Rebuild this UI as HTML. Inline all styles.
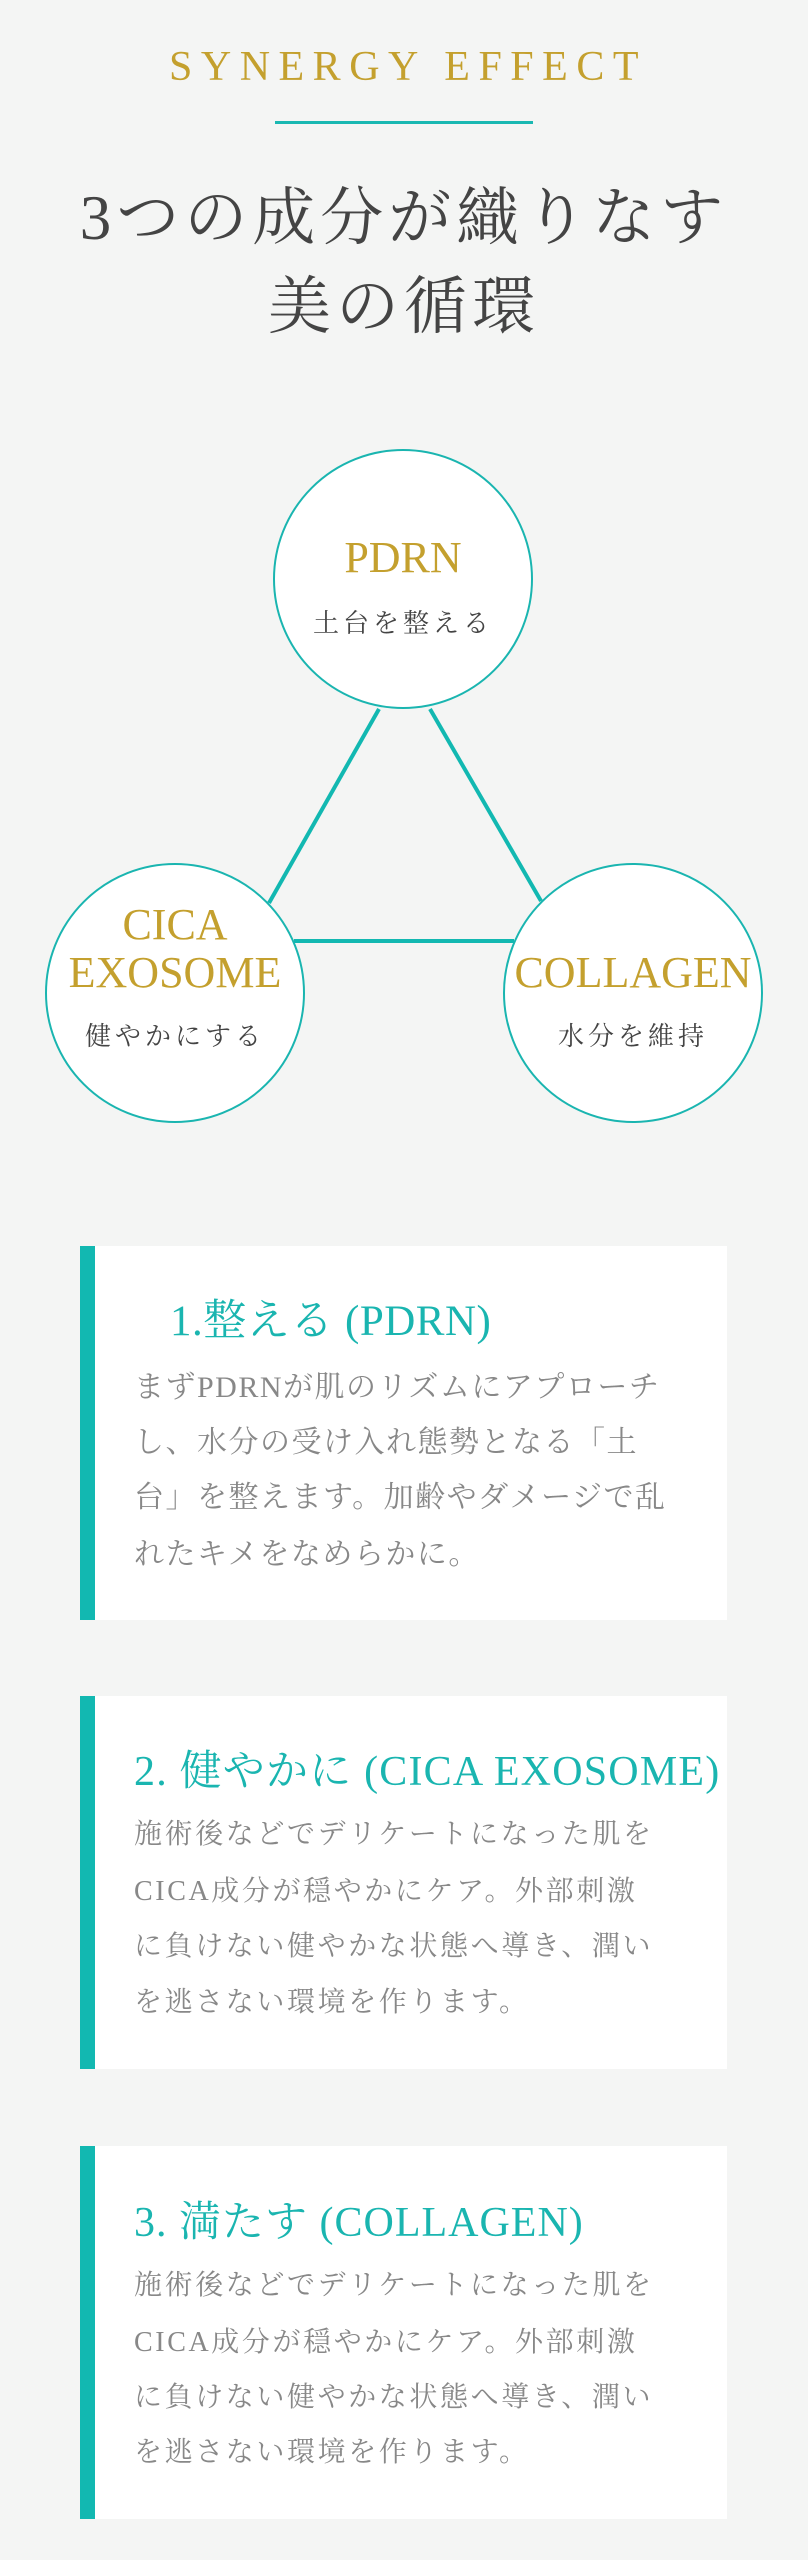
<!DOCTYPE html>
<html><head><meta charset="utf-8"><style>
*{margin:0;padding:0;box-sizing:border-box}
body{width:808px;height:2560px;background:#f4f5f4;position:relative;overflow:hidden;font-family:"Liberation Serif","Noto Serif CJK SC",serif}
.a{position:absolute;white-space:nowrap}
.c{left:0;width:808px;text-align:center}
.card{position:absolute;left:80px;width:647px;background:#fff;border-left:15px solid #12b8b1}
.t{color:#1ab5b0;font-size:42px;letter-spacing:1px;line-height:50px}
.b{color:#888;font-size:28px;letter-spacing:2.6px;line-height:40px;left:134px}
.circ{position:absolute;width:260px;height:260px;border:2px solid #1ab5b0;border-radius:50%;background:#fff}
.g{color:#c4a02e;font-size:44px;line-height:48px}
.s{color:#444;font-size:26px;letter-spacing:4px;line-height:36px}
</style></head><body>
<div class="a c" style="top:42px;font-size:42px;letter-spacing:8.5px;color:#c4a02e;line-height:50px;padding-left:8px">SYNERGY EFFECT</div>
<div class="a" style="left:275px;top:121px;width:258px;height:3px;background:#1ab8b2"></div>
<div class="a c" style="top:180px;font-size:63px;letter-spacing:5px;color:#444;line-height:76px">3つの成分が織りなす</div>
<div class="a c" style="top:269px;font-size:63px;letter-spacing:5px;color:#444;line-height:76px">美の循環</div>

<svg class="a" style="left:0;top:0" width="808" height="1200">
<line x1="379" y1="709" x2="269" y2="903" stroke="#12b8b1" stroke-width="4"/>
<line x1="430" y1="709" x2="541" y2="901" stroke="#12b8b1" stroke-width="4"/>
<line x1="294" y1="941" x2="514" y2="941" stroke="#12b8b1" stroke-width="4"/>
</svg>
<div class="circ" style="left:273px;top:449px"></div>
<div class="circ" style="left:45px;top:863px"></div>
<div class="circ" style="left:503px;top:863px"></div>
<div class="a g" style="left:273px;width:260px;text-align:center;top:534px">PDRN</div>
<div class="a s" style="left:273px;width:260px;text-align:center;top:606px">土台を整える</div>
<div class="a g" style="left:45px;width:260px;text-align:center;top:901px">CICA</div>
<div class="a g" style="left:45px;width:260px;text-align:center;top:949px">EXOSOME</div>
<div class="a s" style="left:45px;width:260px;text-align:center;top:1019px">健やかにする</div>
<div class="a g" style="left:503px;width:260px;text-align:center;top:949px">COLLAGEN</div>
<div class="a s" style="left:503px;width:260px;text-align:center;top:1019px">水分を維持</div>

<div class="card" style="top:1246px;height:374px"></div>
<div class="a t" style="left:170px;top:1297px;font-size:43px;letter-spacing:0.5px">1.整える (PDRN)</div>
<div class="a b" style="top:1368px;letter-spacing:1.5px;font-size:30px">まずPDRNが肌のリズムにアプローチ</div>
<div class="a b" style="top:1423px;letter-spacing:1.5px;font-size:30px">し、水分の受け入れ態勢となる「土</div>
<div class="a b" style="top:1478px;letter-spacing:1.5px;font-size:30px">台」を整えます。加齢やダメージで乱</div>
<div class="a b" style="top:1535px;letter-spacing:1.5px;font-size:30px">れたキメをなめらかに。</div>

<div class="card" style="top:1696px;height:373px"></div>
<div class="a t" style="left:134px;top:1747px;font-size:42px;letter-spacing:1.2px">2. 健やかに (CICA EXOSOME)</div>
<div class="a b" style="top:1815px">施術後などでデリケートになった肌を</div>
<div class="a b" style="top:1872px">CICA成分が穏やかにケア。外部刺激</div>
<div class="a b" style="top:1927px">に負けない健やかな状態へ導き、潤い</div>
<div class="a b" style="top:1983px">を逃さない環境を作ります。</div>

<div class="card" style="top:2146px;height:373px"></div>
<div class="a t" style="left:134px;top:2198px;font-size:42px;letter-spacing:1px">3. 満たす (COLLAGEN)</div>
<div class="a b" style="top:2266px">施術後などでデリケートになった肌を</div>
<div class="a b" style="top:2323px">CICA成分が穏やかにケア。外部刺激</div>
<div class="a b" style="top:2378px">に負けない健やかな状態へ導き、潤い</div>
<div class="a b" style="top:2433px">を逃さない環境を作ります。</div>
</body></html>
